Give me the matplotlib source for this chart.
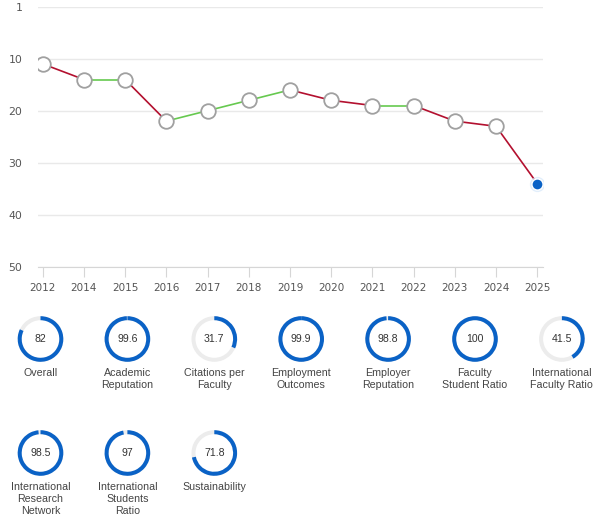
import matplotlib
matplotlib.use('Agg')
import matplotlib.pyplot as plt
from matplotlib.patches import Wedge

years = ['2012', '2014', '2015', '2016', '2017', '2018', '2019',
         '2020', '2021', '2022', '2023', '2024', '2025']
ranks = [11, 14, 14, 22, 20, 18, 16, 18, 19, 19, 22, 23, 34]
ytick_pos = [0, 10, 20, 30, 40, 50]
ytick_labels = ['1', '10', '20', '30', '40', '50']

metric_names = ['Overall', 'Academic\nReputation', 'Citations per\nFaculty',
                'Employment\nOutcomes', 'Employer\nReputation',
                'Faculty\nStudent Ratio', 'International\nFaculty Ratio',
                'International\nResearch\nNetwork', 'International\nStudents\nRatio',
                'Sustainability']
metric_scores = [82, 99.6, 31.7, 99.9, 98.8, 100, 41.5, 98.5, 97, 71.8]

RED = '#b3102f'
GREEN = '#66c94f'
BLUE = '#0a62c6'

W, H = 614, 527
fig = plt.figure(figsize=(W / 100, H / 100), dpi=100)
ax = fig.add_axes([37.7 / W, 1 - 266.7 / H, 505.3 / W, 260 / H])

xs = list(range(len(years)))
for i in range(len(xs) - 1):
    c = RED if ranks[i + 1] > ranks[i] else GREEN
    ax.plot(xs[i:i + 2], ranks[i:i + 2], color=c, lw=1.2, zorder=2,
            solid_capstyle='round')
ax.plot(xs[:-1], ranks[:-1], ls='none', marker='o', ms=10.5, mfc='white',
        mec='#a0a0a0', mew=1.3, zorder=3)
ax.plot(xs[-1:], ranks[-1:], ls='none', marker='o', ms=11, mfc='#d6e8fa',
        mec='none', alpha=0.7, zorder=3)
ax.plot(xs[-1:], ranks[-1:], ls='none', marker='o', ms=8, mfc=BLUE,
        mec='white', mew=1.0, zorder=4)

ax.set_xlim(-0.121, 12.14)
ax.set_ylim(50, 0)
ax.set_xticks(xs)
ax.set_xticklabels(years)
ax.set_yticks(ytick_pos)
ax.set_yticklabels(ytick_labels)
ax.yaxis.grid(True, color='#e9e9e9', lw=1)
ax.set_axisbelow(True)
for s in ['top', 'right', 'left']:
    ax.spines[s].set_visible(False)
ax.spines['bottom'].set_color('#d6d6d6')
ax.tick_params(axis='y', length=0, pad=11, labelsize=7.8, labelcolor='#555555')
ax.tick_params(axis='x', length=7, color='#d6d6d6', pad=5, labelsize=7.5,
               labelcolor='#555555')
for t in ax.get_yticklabels() + ax.get_xticklabels():
    t.set_family('DejaVu Sans')

# gauges
g = fig.add_axes([0, 0, 1, 1])
g.set_xlim(0, W)
g.set_ylim(H, 0)
g.axis('off')
g.patch.set_alpha(0)

R, RW = 22.8, 4.0
for k, (name, score) in enumerate(zip(metric_names, metric_scores)):
    row, col = divmod(k, 7)
    cx = 40.5 + 86.9 * col
    cy = [339, 453][row]
    g.add_patch(Wedge((cx, cy), R, 0, 360, width=RW, facecolor='#ececec',
                      edgecolor='none'))
    frac = score / 100.0
    if frac > 0:
        # clockwise from 12 o'clock on screen (y axis inverted)
        g.add_patch(Wedge((cx, cy), R, 270, 270 + 360 * frac, width=RW,
                          facecolor=BLUE, edgecolor='none'))
    g.text(cx, cy, f'{score:g}', ha='center', va='center', fontsize=7.6,
           color='#333333', family='Liberation Sans')
    g.text(cx, cy + 28.5, name, ha='center', va='top', fontsize=7.7,
           color='#444444', family='Liberation Sans', linespacing=1.25,
           multialignment='center')

fig.savefig('out.png', dpi=100)
